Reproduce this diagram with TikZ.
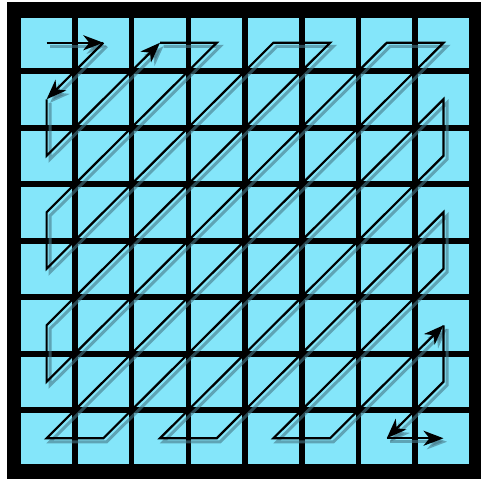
\documentclass[tikz,border=0pt]{standalone}
\usetikzlibrary{arrows.meta}
\definecolor{cellc}{RGB}{132,230,250}
\definecolor{shadowc}{RGB}{70,120,135}
\tikzset{
  cellbox/.style={fill=cellc, draw=none},
  zz/.style={draw=black, line width=2.2pt, line join=miter},
  zzs/.style={draw=shadowc, line width=3pt, line join=miter, opacity=0.6},
  tip/.style={-{Stealth[length=20pt,width=15pt,inset=6pt]}}
}
\newcommand{\zzpaths}[1]{%
  \draw[#1,tip] (c00) -- (c10);
  \draw[#1,tip] (c10) -- (c01);
  \draw[#1,tip] (c01) -- (c02) -- (c20);
  \draw[#1,tip] (c20) -- (c30) -- (c03) -- (c04) -- (c40) -- (c50) -- (c05) -- (c06) -- (c60) -- (c70) -- (c07) -- (c17) -- (c71) -- (c72) -- (c27) -- (c37) -- (c73) -- (c74) -- (c47) -- (c57) -- (c75);
  \draw[#1,tip] (c75) -- (c76) -- (c67);
  \draw[#1,tip] (c67) -- (c77);
}
\begin{document}
\begin{tikzpicture}[x=1pt,y=-1pt]
\useasboundingbox (0,0) rectangle (481,479);
\fill[white] (0,0) rectangle (481,479);
\fill[black] (7,2) rectangle (481,479);
\foreach \i in {0,...,7}{
  \foreach \j in {0,...,7}{
    \path[cellbox] ({21+56.7*\i},{17.5+56.5*\j}) rectangle ++(51.2,50.5);
    \coordinate (c\i\j) at ({46.6+56.7*\i},{42.75+56.5*\j});
  }
}
\begin{scope}[transform canvas={shift={(3.5pt,-3.5pt)}}]
  \zzpaths{zzs}
\end{scope}
\zzpaths{zz}
\end{tikzpicture}
\end{document}
